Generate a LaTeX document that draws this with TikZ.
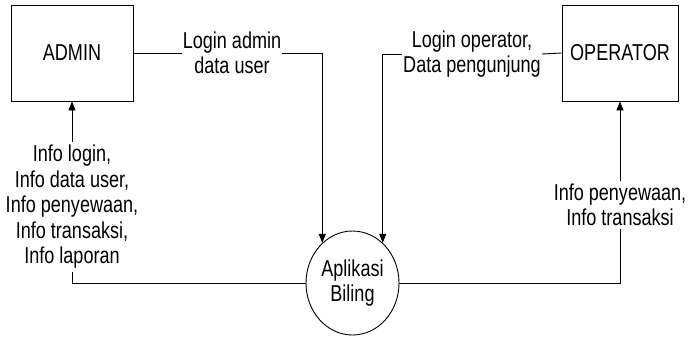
\documentclass[tikz,border=0pt]{standalone}
\usepackage{fontspec}
\setmainfont{Liberation Sans}[FakeStretch=0.785]
\usetikzlibrary{arrows.meta,shapes.geometric}
\begin{document}
\begin{tikzpicture}[x=1pt,y=-1pt,
  every node/.style={font=\fontsize{23}{24.5}\selectfont},
  entity/.style={draw,line width=0.9pt,rectangle,minimum height=96pt,inner sep=0pt},
  proc/.style={draw,line width=0.9pt,ellipse,minimum width=93pt,minimum height=104pt,inner sep=0pt,align=center},
  lbl/.style={align=center,inner sep=1pt},
  flow/.style={line width=0.9pt},
  arr/.style={line width=0.9pt,-{Triangle[length=9pt,width=7pt]}}]
\useasboundingbox (0,0) rectangle (692,341);
\node[entity,minimum width=122pt] (admin) at (72,53) {ADMIN};
\node[entity,minimum width=116pt] (operator) at (620,53) {OPERATOR};
\node[proc] (app) at (352.5,283) {Aplikasi\\Biling};
\node[lbl] (l1) at (232,53) {Login admin\\data user};
\node[lbl] (l2) at (472,54) {Login operator,\\Data pengunjung};
\node[lbl,inner sep=3pt,font=\fontsize{23}{25.5}\selectfont] (l3) at (72,207) {Info login,\\Info data user,\\Info penyewaan,\\Info transaksi,\\Info laporan};
\node[lbl,inner sep=3pt] (l4) at (620,205) {Info penyewaan,\\Info transaksi};
% admin -> app
\draw[flow] (admin.east) -- (l1.west);
\draw[arr] (l1.east) -| (app.127);
% operator -> app
\draw[flow] (operator.west) -- (l2.east);
\draw[arr] (l2.west) -| (app.53);
% app -> admin
\draw[flow] (app.west) -| (l3.south);
\draw[arr] (l3.north) -- (admin.south);
% app -> operator
\draw[flow] (app.east) -| (l4.south);
\draw[arr] (l4.north) -- (operator.south);
\end{tikzpicture}
\end{document}
